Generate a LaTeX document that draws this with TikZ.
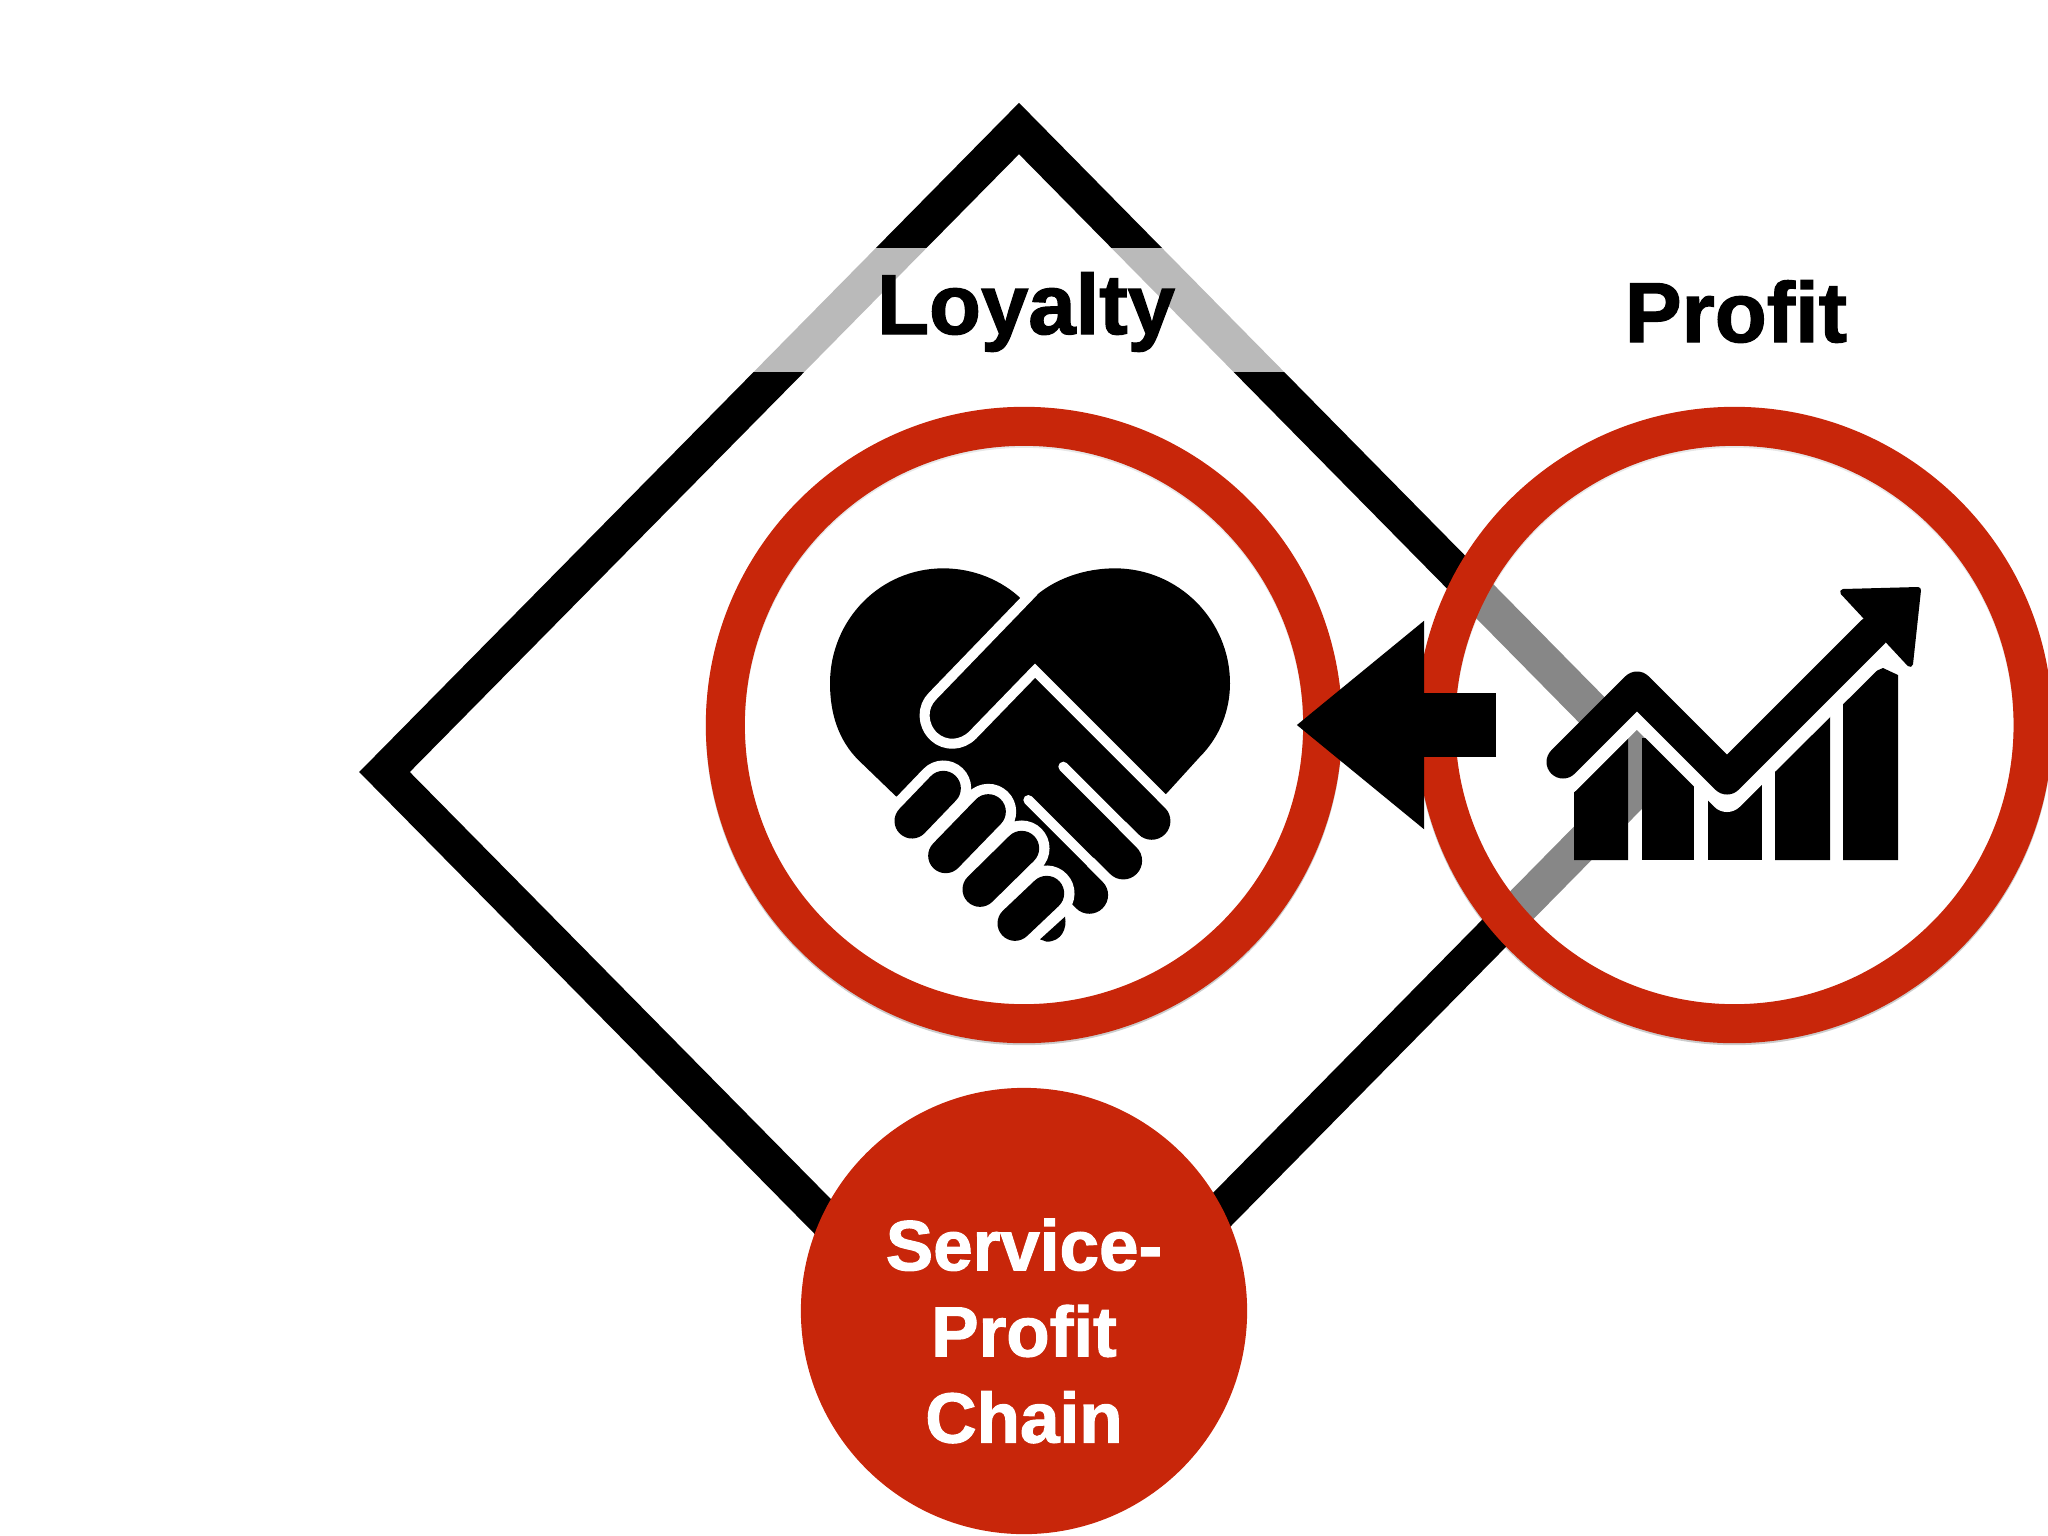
\documentclass[tikz,border=0pt]{standalone}
\usepackage{fontspec}
\setmainfont{Liberation Sans}[BoldFeatures={FakeBold=1.5}]
\usetikzlibrary{positioning, arrows.meta}
\definecolor{chainred}{HTML}{C8260A}

\begin{document}
\begin{tikzpicture}[x=0.01cm, y=-0.01cm, node distance=7.1cm,
                ring/.style={circle, draw=chainred, line width=0.39cm, minimum size=5.97cm, inner sep=0pt, outer sep=0pt,
                             fill=white, fill opacity=0.53, draw opacity=1,
                             preaction={draw=black, draw opacity=0.2, fill opacity=0, transform canvas={yshift=-0.02cm}}},
                title/.style={font=\fontsize{24.2}{29}\selectfont\bfseries, text=black},
                gap/.style={draw=white, line width=0.1cm, line cap=round},
                finger/.style={draw=black, line width=0.35cm, line cap=round}]

    \useasboundingbox (0,0) rectangle (2048,1536);

    % diamond
    \draw[line width=0.36cm, line join=miter, miter limit=10] (1019,128.5) -- (1653,772) -- (1019,1415.5) -- (384.5,772) -- cycle;

    % circles
    \node[ring] (loyaltyring) at (1024,725) {};
    \node[ring] (profitring) [right of=loyaltyring] {};
    \node[circle, fill=chainred, minimum size=4.46cm, inner sep=0pt] (chain) at (1024,1311) {};
    \node[text=white, align=center, font=\fontsize{20.2}{24.5}\selectfont\bfseries] (chaintext) at (1024,1331) {Service-\\Profit\\Chain};

    % labels
    \node[title, fill=white, fill opacity=0.73, text opacity=1, minimum width=5.6cm, inner sep=0pt,
          text height=0.86cm, text depth=0.38cm] (loyalty) at (1026,310) {Loyalty};
    \node[title, anchor=base] (profit) at (1736,342) {Profit};

    % arrow
    \coordinate (arrowtail) at (1496,725);
    \draw[-{Triangle[length=1.28cm,width=2cm]}, line width=0.63cm, shorten >=-0.265cm] (arrowtail) -- (loyaltyring);

    % handshake
    \begin{scope}[shift={(780,540)}, x=0.01cm/3, y=-0.01cm/3]
        \fill (347,768) -- (235,660) .. controls (175,600) and (150,520) .. (150,430)
              .. controls (150,240) and (300,85) .. (490,85) .. controls (580,85) and (665,120) .. (725,178)
              -- (745,185) -- (770,165) .. controls (830,115) and (915,85) .. (1005,85)
              .. controls (1195,85) and (1350,240) .. (1350,430) .. controls (1350,510) and (1320,590) .. (1260,650)
              -- (1160,760) -- (1050,830) -- (950,940) -- (860,1060) -- (760,1000) -- cycle;
        \draw[finger, line width=0.375cm] (1000,728) -- (1115,843) (900,832) -- (1030,962) (800,937) -- (928,1065);
        \draw[gap] (760,155) -- (458,468) .. controls (425,500) and (425,555) .. (462,590)
              .. controls (495,620) and (545,618) .. (578,585) -- (765,392) -- (1180,807);
        \draw[gap] (850,680) -- (1100,930) (745,780) -- (990,1025);
        \draw[draw=white, line width=0.557cm, line cap=round] (490,745) -- (396,843) (625,815) -- (497,947)
              (725,925) -- (600,1048) (800,1060) -- (705,1150);
        \draw[finger] (490,745) -- (396,843) (625,815) -- (497,947) (725,925) -- (600,1048) (800,1060) -- (705,1150);
        \fill (780,1198) -- (855,1130) .. controls (862,1165) and (845,1205) .. (800,1205) -- cycle;
    \end{scope}

    % chart
    \fill (1574,860) -- (1574,780) -- (1628,730) -- (1628,860) -- cycle;
    \fill (1642,860) -- (1642,738) -- (1694,738) -- (1694,860) -- cycle;
    \fill (1708,860) -- (1708,770) -- (1762,770) -- (1762,860) -- cycle;
    \fill (1775,860) -- (1775,750) -- (1830,695) -- (1830,860) -- cycle;
    \fill (1843,860) -- (1843,685) -- (1883,668) -- (1898,675) -- (1898,860) -- cycle;
    \draw[white, line width=0.36cm, line join=round, line cap=round] (1563,778) -- (1637,704) -- (1727,794) -- (1873,649) -- (1895,627);
    \draw[line width=0.33cm, line join=round, line cap=round] (1563,762) -- (1637,688) -- (1727,778) -- (1873,632);
    \filldraw[line width=0.06cm, line join=round] (1843,592) -- (1918,590) -- (1910,664) -- cycle;

\end{tikzpicture}
\end{document}
